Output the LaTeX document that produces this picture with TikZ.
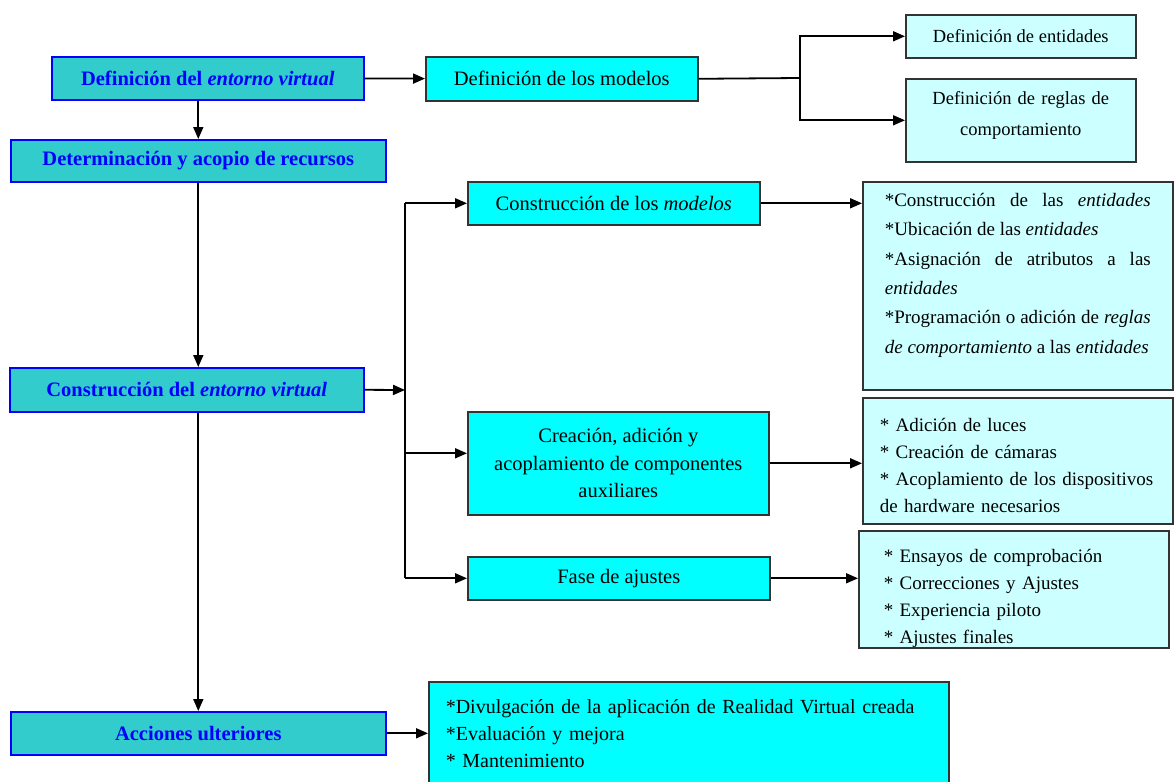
\documentclass[tikz,border=0pt]{standalone}
\usepackage{fontspec}
\setmainfont{Liberation Serif}
\usetikzlibrary{arrows.meta, positioning}
\definecolor{tealbox}{HTML}{33CCCC}
\definecolor{cyanbox}{HTML}{00FFFF}
\definecolor{palebox}{HTML}{CCFFFF}
\definecolor{edgegray}{HTML}{333333}
\setlength{\parindent}{0pt}
\hyphenpenalty=10000
% empty space below the lines of a box / height of its first line
\newcommand{\padbelow}[1]{\par\nointerlineskip\vspace{#1}\hbox{}}
\newcommand{\firstline}[1]{\rule{0pt}{#1}}

\begin{document}
\begin{tikzpicture}[
    x=1pt, y=-1pt,
    phase/.style={rectangle, draw=blue, fill=tealbox, line width=1.6pt, text=blue, inner sep=0pt, anchor=north west, align=center, font=\bfseries\fontsize{20.5pt}{27pt}\selectfont},
    task/.style={rectangle, draw=edgegray, fill=cyanbox, line width=1.6pt, inner sep=0pt, anchor=north west, align=center, font=\fontsize{20.5pt}{27.5pt}\selectfont},
    detail/.style={rectangle, draw=edgegray, fill=palebox, line width=1.6pt, inner sep=0pt, anchor=north west, align=center, font=\fontsize{18.5pt}{27pt}\selectfont},
    notes/.style={detail, align=left, font=\fontsize{19pt}{27pt}\selectfont},
    arrow/.style={-{Triangle[length=12pt, width=10pt]}, line width=1.8pt},
    link/.style={line width=1.8pt}
]
\useasboundingbox[fill=white] (0,0) rectangle (1174,781);

% left column
\node[phase, minimum width=312, minimum height=43] (ent) at (51,56) {Definición del \textit{entorno virtual}};
\node[phase, minimum width=375, minimum height=42] (rec) at (10,139) {Determinación y acopio de recursos};
\node[phase, minimum width=354, minimum height=44] (cons) at (9,367) {Construcción del \textit{entorno virtual}};
\node[phase, minimum width=375, minimum height=43] (acc) at (10,711) {Acciones ulteriores};

% models
\node[task, minimum width=272, minimum height=44] (modelos) at (425,56) {Definición de los modelos};
\node[detail, minimum width=230, minimum height=43] (entid) at (905,14) {Definición de entidades};
\node[detail, text width=230, minimum height=83, font=\fontsize{18.5pt}{31pt}\selectfont] (reglas) at (905,78) {Definición de reglas de\\comportamiento\padbelow{10pt}};

% construction
\node[task, minimum width=292, minimum height=43] (cmod) at (467,181) {Construcción de los \textit{modelos}};
\node[task, minimum width=301, minimum height=103] (aux) at (467,411) {Creación, adición y\\acoplamiento de componentes\\auxiliares};
\node[task, minimum width=302, minimum height=43] (ajus) at (467,556) {Fase de ajustes};

\node[notes, align=justify, text width=266, minimum width=310, minimum height=208, font=\fontsize{19pt}{29.4pt}\selectfont] (cent) at (862,181)
  {*Construcción de las \textit{entidades}\linebreak
   *Ubicación de las \textit{entidades}\par
   *Asignación de atributos a las\linebreak \textit{entidades}\par
   *Programación o adición de \textit{reglas}\linebreak \textit{de comportamiento} a las \textit{entidades}\padbelow{21pt}};
\node[notes, text width=276, minimum width=310, minimum height=126] (auxl) at (862,397)
  {\firstline{22pt}* Adición de luces\\{}* Creación de cámaras\\{}* Acoplamiento de los dispositivos\\de hardware necesarios};
\node[notes, text width=260, minimum width=310, minimum height=117] (ajusl) at (858,530)
  {\firstline{31pt}* Ensayos de comprobación\\{}* Correcciones y Ajustes\\{}* Experiencia piloto\\{}* Ajustes finales};

% follow-up
\node[task, align=left, text width=486, minimum width=520, minimum height=110, font=\fontsize{20pt}{27pt}\selectfont] (accl) at (428,681)
  {*Divulgación de la aplicación de Realidad Virtual creada\\{}*Evaluación y mejora\\{}* Mantenimiento\padbelow{6pt}};

\coordinate (splitA) at (800,78);
\coordinate (splitB) at (405,390);
\coordinate (auxin) at ([yshift=10pt]aux.west);

% connectors
\draw[arrow] (ent) -- (modelos);
\draw[link] (modelos.east) -- (splitA);
\draw[arrow] (splitA) |- (entid.west);
\draw[arrow] (splitA) |- (reglas.west);

\draw[arrow] (rec.north |- ent.south) -- (rec.north);
\draw[arrow] (rec.south) -- (rec.south |- cons.north);
\draw[arrow] (acc.north |- cons.south) -- (acc.north);

\draw[arrow] (cons.east) -- (splitB);
\draw[link] (splitB |- cmod.west) -- (splitB |- ajus.west);
\draw[arrow] (splitB |- cmod.west) -- (cmod.west);
\draw[arrow] (splitB |- auxin) -- (auxin);
\draw[arrow] (splitB |- ajus.west) -- (ajus.west);

\draw[arrow] (cmod.east) -- (cmod.east -| cent.west);
\draw[arrow] (aux.east) -- (aux.east -| auxl.west);
\draw[arrow] (ajus.east) -- (ajus.east -| ajusl.west);
\draw[arrow] (acc.east) -- (acc.east -| accl.west);

\end{tikzpicture}
\end{document}
